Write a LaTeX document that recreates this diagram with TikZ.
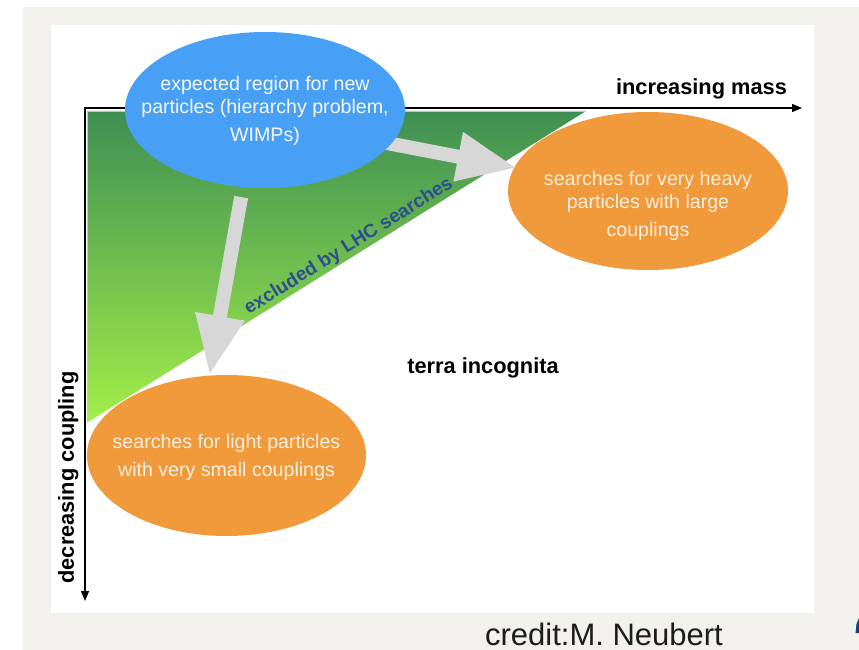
\documentclass[tikz,border=0pt]{standalone}
\usepackage{fontspec}
\setmainfont{Liberation Sans}
\usetikzlibrary{shapes.geometric,arrows.meta}

\definecolor{paper}{HTML}{F2F1EE}
\definecolor{ovalblue}{HTML}{47A0F5}
\definecolor{ovalorange}{HTML}{F09A3B}
\definecolor{greentop}{HTML}{3F8F53}
\definecolor{greenbot}{HTML}{A2EE4A}
\definecolor{hintgray}{HTML}{D7D7D7}
\definecolor{lhcblue}{HTML}{2C4F8E}
\definecolor{bluetext}{HTML}{F7F6F0}
\definecolor{creamtext}{HTML}{FCEEDD}
\definecolor{creditgray}{HTML}{1C1C1C}

\pgfdeclarelayer{bg}
\pgfdeclarelayer{hints}
\pgfsetlayers{bg,hints,main}

\begin{document}
\begin{tikzpicture}[x=1pt,y=-1pt,
  oval/.style={ellipse, inner sep=0pt, draw=none},
  ovaltext/.style={anchor=base, inner sep=0pt, font=\fontsize{19.6}{23}\selectfont},
  boldlabel/.style={anchor=base, inner sep=0pt, font=\fontsize{21.8}{26}\selectfont\bfseries},
  hint/.style={draw=hintgray, line width=14pt, -{Triangle[width=46pt,length=60pt]}},
  axisline/.style={line width=1.2pt, {Triangle[width=8pt,length=10pt]}-{Triangle[width=8pt,length=10pt]}}]

\useasboundingbox (0,0) rectangle (859,650);

\begin{pgfonlayer}{bg}
  % page, slide mat and white sheet
  \fill[white] (0,0) rectangle (859,650);
  \fill[paper] (23,7) rectangle (859,650);
  \fill[white] (51,25) rectangle (814,613);
  \fill[lhcblue!80!black] (855.5,633) -- (856.5,624) -- (859,618) -- (859,633) -- cycle;

  % region already excluded
  \shade[top color=greentop, bottom color=greenbot] (88,111) -- (586,111) -- (88,422) -- cycle;
  \draw[gray!45, line width=0.6pt] (87.6,422) -- (87.6,111.6) -- (586,111.6);

  % axes
  \coordinate (O) at (85,108);
  \coordinate (xend) at (802,108);
  \coordinate (yend) at (85,601);
  \draw[axisline] (xend) -- (O) -- (yend);

  % search directions
  \node[oval, fill=ovalorange, minimum width=280pt, minimum height=158pt] (heavy) at (648,191) {};
  \node[oval, fill=ovalorange, minimum width=279pt, minimum height=161pt] (light) at (226.5,455.5) {};
\end{pgfonlayer}

\node[oval, fill=ovalblue, minimum width=280pt, minimum height=156pt] (expected) at (265,110) {};

\begin{pgfonlayer}{hints}
  \draw[hint, shorten <=10pt] (expected.254) -- (light.102);
  \draw[hint, shorten <=-8pt, shorten >=-3pt] (expected.345) -- (heavy.170);
\end{pgfonlayer}

% texts in the ovals
\node[ovaltext, text=bluetext] (e1) at (265,90.5) {expected region for new};
\node[ovaltext, text=bluetext] (e2) at (265,113.5) {particles (hierarchy problem,};
\node[ovaltext, text=bluetext] (e3) at (265,141.5) {WIMPs)};

\node[ovaltext, text=creamtext] (h1) at (648,185.5) {searches for very heavy};
\node[ovaltext, text=creamtext] (h2) at (648,208.5) {particles with large};
\node[ovaltext, text=creamtext] (h3) at (648,236.5) {couplings};

\node[ovaltext, text=creamtext] (l1) at (226.5,448.5) {searches for light particles};
\node[ovaltext, text=creamtext] (l2) at (226.5,476.5) {with very small couplings};

% axis and region labels
\node[boldlabel] (mass) at (701.5,95) {increasing mass};
\node[boldlabel, rotate=90] (coupling) at (73.8,477.5) {decreasing coupling};
\node[boldlabel] (terra) at (483,373) {terra incognita};
\node[anchor=base, inner sep=0pt, rotate=32, text=lhcblue,
      font=\fontsize{19}{23}\selectfont\bfseries] (lhc) at (351.4,250.7) {excluded by LHC searches};

\node[anchor=base, inner sep=0pt, text=creditgray, font=\fontsize{31}{37}\selectfont] (credit) at (604,645) {credit:M. Neubert};
\end{tikzpicture}
\end{document}
